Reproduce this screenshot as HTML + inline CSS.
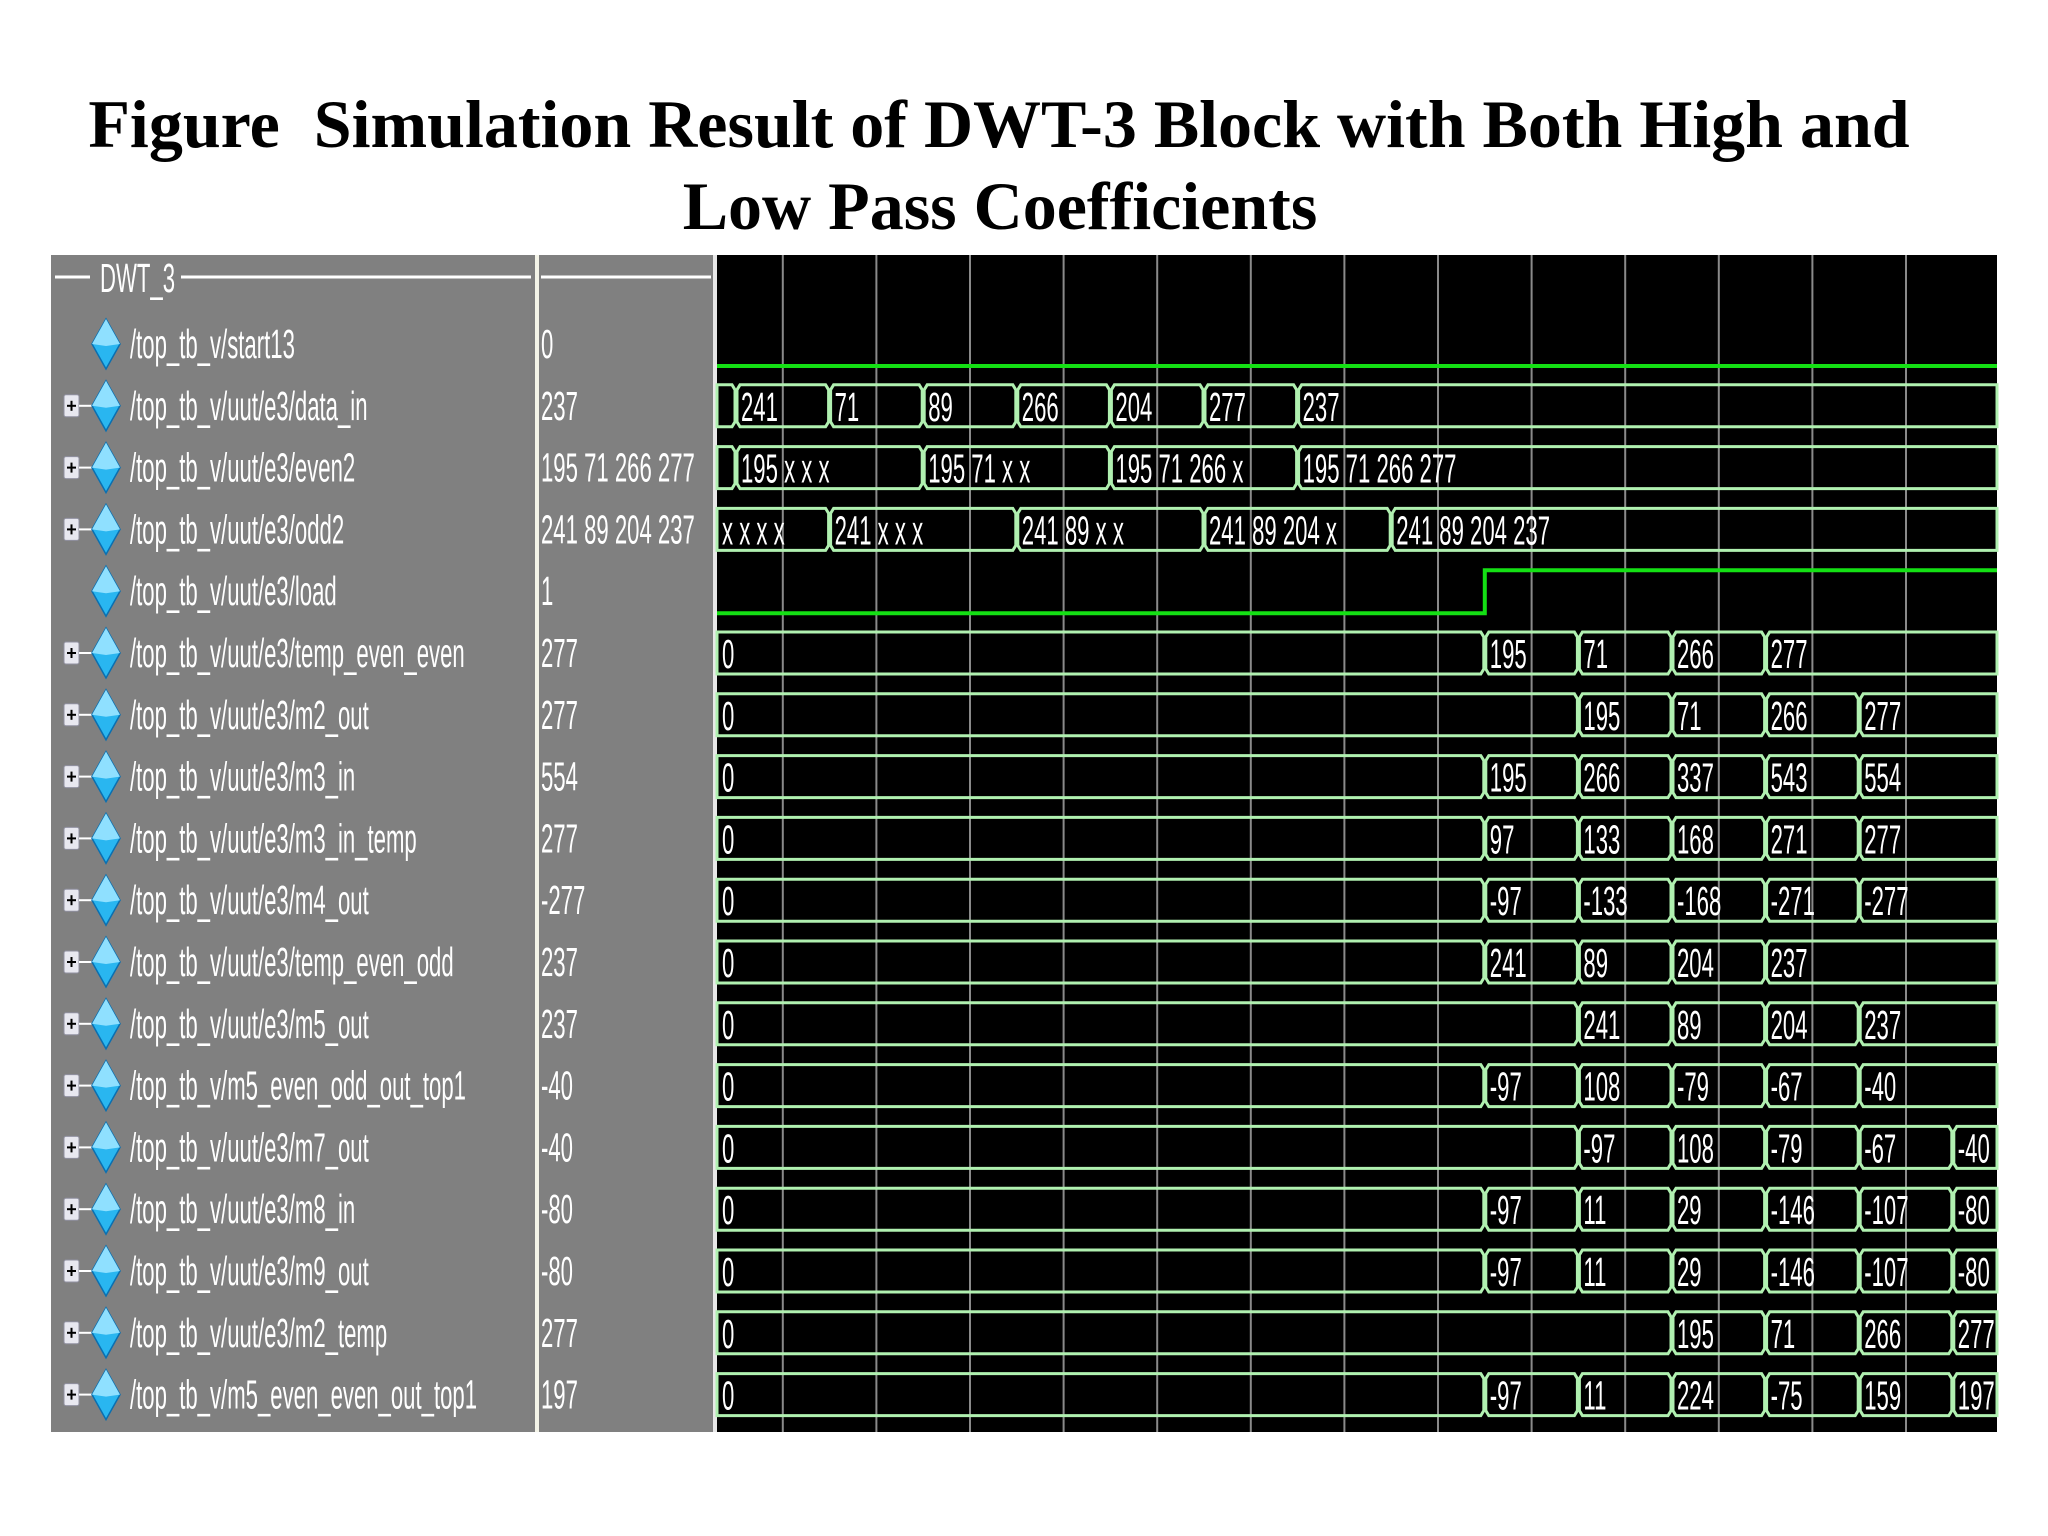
<!DOCTYPE html>
<html><head><meta charset="utf-8"><style>
body{margin:0;background:#fff;}
svg{display:block;}
</style></head><body>
<svg id="fig" width="2048" height="1536" viewBox="0 0 2048 1536" xmlns="http://www.w3.org/2000/svg">
<rect width="2048" height="1536" fill="#ffffff"/>
<text x="999" y="147" text-anchor="middle" font-family="Liberation Serif, serif" font-weight="bold" font-size="68">Figure&#160; Simulation Result of DWT-3 Block with Both High and</text>
<text x="1000" y="229" text-anchor="middle" font-family="Liberation Serif, serif" font-weight="bold" font-size="68">Low Pass Coefficients</text>
<g id="panel"></g>
</svg>
<script>
const signalNames=["/top_tb_v/start13","/top_tb_v/uut/e3/data_in","/top_tb_v/uut/e3/even2","/top_tb_v/uut/e3/odd2","/top_tb_v/uut/e3/load","/top_tb_v/uut/e3/temp_even_even","/top_tb_v/uut/e3/m2_out","/top_tb_v/uut/e3/m3_in","/top_tb_v/uut/e3/m3_in_temp","/top_tb_v/uut/e3/m4_out","/top_tb_v/uut/e3/temp_even_odd","/top_tb_v/uut/e3/m5_out","/top_tb_v/m5_even_odd_out_top1","/top_tb_v/uut/e3/m7_out","/top_tb_v/uut/e3/m8_in","/top_tb_v/uut/e3/m9_out","/top_tb_v/uut/e3/m2_temp","/top_tb_v/m5_even_even_out_top1"];
const cursorValues=["0","237","195 71 266 277","241 89 204 237","1","277","277","554","277","-277","237","237","-40","-40","-80","-80","277","197"];
const isBit=[true,false,false,false,true,false,false,false,false,false,false,false,false,false,false,false,false,false];
// bit signals: [time step, level]
const bitStart13=[[ -1,0]];
const bitLoad=[[-1,0],[8,1]];
// bus signals: initial label then [time step, label]
const busInit=["","","","x x x x","","0","0","0","0","0","0","0","0","0","0","0","0","0"];
const busChanges=[
 [],
 [[0,"241"],[1,"71"],[2,"89"],[3,"266"],[4,"204"],[5,"277"],[6,"237"]],
 [[0,"195 x x x"],[2,"195 71 x x"],[4,"195 71 266 x"],[6,"195 71 266 277"]],
 [[1,"241 x x x"],[3,"241 89 x x"],[5,"241 89 204 x"],[7,"241 89 204 237"]],
 [],
 [[8,"195"],[9,"71"],[10,"266"],[11,"277"]],
 [[9,"195"],[10,"71"],[11,"266"],[12,"277"]],
 [[8,"195"],[9,"266"],[10,"337"],[11,"543"],[12,"554"]],
 [[8,"97"],[9,"133"],[10,"168"],[11,"271"],[12,"277"]],
 [[8,"-97"],[9,"-133"],[10,"-168"],[11,"-271"],[12,"-277"]],
 [[8,"241"],[9,"89"],[10,"204"],[11,"237"]],
 [[9,"241"],[10,"89"],[11,"204"],[12,"237"]],
 [[8,"-97"],[9,"108"],[10,"-79"],[11,"-67"],[12,"-40"]],
 [[9,"-97"],[10,"108"],[11,"-79"],[12,"-67"],[13,"-40"]],
 [[8,"-97"],[9,"11"],[10,"29"],[11,"-146"],[12,"-107"],[13,"-80"]],
 [[8,"-97"],[9,"11"],[10,"29"],[11,"-146"],[12,"-107"],[13,"-80"]],
 [[10,"195"],[11,"71"],[12,"266"],[13,"277"]],
 [[8,"-97"],[9,"11"],[10,"224"],[11,"-75"],[12,"159"],[13,"197"]]
];
const gridSteps=[0.5,1.5,2.5,3.5,4.5,5.5,6.5,7.5,8.5,9.5,10.5,11.5,12.5];

const NS="http://www.w3.org/2000/svg";
const g=document.getElementById('panel');
const L=51,T=255,B=1432,NAMEX=535,VALX=539,VALR=713,WX=717,WR=1997;
const xT=k=>736+93.6*k;
const rowY=i=>344+61.8*i;
function el(tag,attrs,parent){const e=document.createElementNS(NS,tag);for(const k in attrs)e.setAttribute(k,attrs[k]);(parent||g).appendChild(e);return e;}
function txt(x,y,s,fill){const t=el('text',{transform:`translate(${x},${y}) scale(0.54,1)`,fill:fill||'#fff','font-family':'Liberation Sans, sans-serif','font-size':'41'});t.textContent=s;return t;}

let r=el('rect',{x:L,y:T,width:NAMEX-L,height:B-T,fill:'#808080'});


r=el('rect',{x:VALX,y:T,width:VALR-VALX,height:B-T,fill:'#808080'});


el('rect',{x:NAMEX,y:T,width:4,height:B-T,fill:'#f4f4e8'});
el('rect',{x:VALR,y:T,width:4,height:B-T,fill:'#e8e8e8'});
r=el('rect',{x:WX,y:T,width:WR-WX,height:B-T,fill:'#000'});


// header
el('line',{x1:55,y1:277,x2:90,y2:277,stroke:'#fff','stroke-width':3});
let h=txt(100,292,'DWT_3');


el('line',{x1:181,y1:277,x2:531,y2:277,stroke:'#fff','stroke-width':3});
el('line',{x1:541,y1:277,x2:711,y2:277,stroke:'#fff','stroke-width':3});
// grid
gridSteps.forEach(k=>{const l=el('line',{x1:xT(k),y1:T,x2:xT(k),y2:B,stroke:'#8a8a8a','stroke-width':2});

});

signalNames.forEach((nm,i)=>{
 const cy=rowY(i);
 if(!isBit[i]){
  const pb=el('rect',{x:64,y:cy-11,width:15,height:22,fill:'#e8e8f0',stroke:'#9090a0','stroke-width':1,rx:2});
  
  
  el('line',{x1:67,y1:cy,x2:76,y2:cy,stroke:'#000','stroke-width':2});
  el('line',{x1:71.5,y1:cy-5,x2:71.5,y2:cy+5,stroke:'#000','stroke-width':2});
  el('line',{x1:79,y1:cy,x2:92,y2:cy,stroke:'#fff','stroke-width':2});
 }
 const d=el('polygon',{points:`106,${cy-25} 120,${cy} 106,${cy+25} 92,${cy}`,fill:'#29b6f0',stroke:'#0a6fb0','stroke-width':1.5});
 
 
 el('polygon',{points:`106,${cy-25} 120,${cy} 106,${cy+2} 92,${cy}`,fill:'#8fe0ff'});
 const n=txt(130,cy+14,nm);
 
 
 const v=txt(541,cy+14,cursorValues[i]);
 
 
 const top=cy-21,bot=cy+21;
 if(isBit[i]){
  const ev=i===0?bitStart13:bitLoad;
  let pts=[];
  ev.forEach((e,j)=>{const x=e[0]<0?WX:xT(e[0]);const y=e[1]?top:bot+1;
   if(j>0){pts.push(x+','+pts[pts.length-1].split(',')[1]);}
   pts.push(x+','+y);});
  const lastY=pts[pts.length-1].split(',')[1];pts.push(WR+','+lastY);
  const w=el('polyline',{points:pts.join(' '),fill:'none',stroke:'#14e014','stroke-width':4});
  
  
 } else {
  const segs=[[WX,busInit[i]]].concat(busChanges[i].map(c=>[xT(c[0]),c[1]]));
  segs.forEach((s,j)=>{
   const xa=s[0],xb=j+1<segs.length?segs[j+1][0]:WR;
   let pts=j===0?`${xa},${top} `:`${xa+1},${top+5} ${xa+4},${top} `;
   pts+=j+1<segs.length?`${xb-4},${top} ${xb-1},${top+5} ${xb-1},${bot-5} ${xb-4},${bot} `:`${xb},${top} ${xb},${bot} `;
   pts+=j===0?`${xa},${bot}`:`${xa+4},${bot} ${xa+1},${bot-5}`;
   const p=el('polygon',{points:pts,fill:'none',stroke:'#b0f0b0','stroke-width':3});
   
   
   if(s[1]){const t=txt(xa+5,cy+15,s[1]);
    
    }
  });
 }
});
</script>
</body></html>
